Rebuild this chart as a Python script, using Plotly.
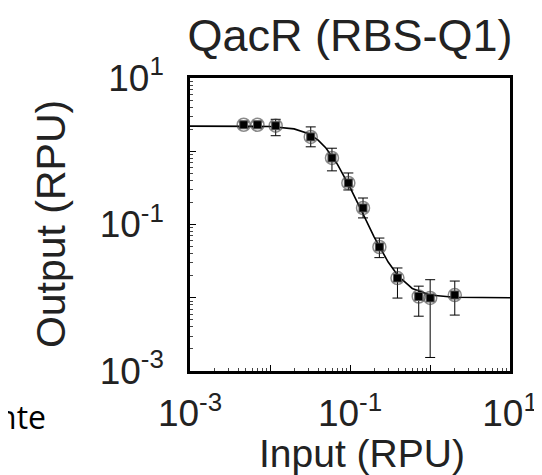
import plotly.graph_objects as go

# ---- data ----
input_rpu = [0.00469, 0.00697, 0.01178, 0.0323, 0.0595, 0.0953, 0.1455, 0.233, 0.392, 0.723, 1.005, 2.04]
output_rpu = [2.30, 2.30, 2.23, 1.57, 0.81, 0.369, 0.168, 0.0493, 0.0186, 0.0104, 0.00993, 0.0109]
err_plus = [0.2, 0.2, 0.5, 0.58, 0.29, 0.136, 0.062, 0.016, 0.0069, 0.004, 0.0077, 0.006]
err_minus = [0.2, 0.2, 0.6, 0.42, 0.27, 0.073, 0.045, 0.014, 0.0087, 0.0048, 0.0084, 0.0051]

fit_x = [0.001, 0.005, 0.01, 0.02, 0.03, 0.04, 0.05, 0.07, 0.1, 0.15, 0.2, 0.3, 0.4, 0.6, 1.0, 2.0, 10.0]
fit_y = [2.20, 2.20, 2.18, 2.02, 1.75, 1.42, 1.11, 0.657, 0.322, 0.13, 0.068, 0.0307, 0.0198, 0.0134, 0.0109, 0.01015, 0.0100]

x_tickvals = [1e-3, 1e-2, 1e-1, 1, 10]
x_ticktext = ["10<sup>-3</sup>", "", "10<sup>-1</sup>", "", "10<sup>1</sup>"]
y_tickvals = [1e-3, 1e-2, 1e-1, 1, 10]
y_ticktext = ["10<sup>-3</sup>", "", "10<sup>-1</sup>", "", "10<sup>1</sup>"]

title_text = "QacR (RBS-Q1)"
x_title = "Input (RPU)"
y_title = "Output (RPU)"
fragment_text = "nte"

FONT = "Liberation Sans, Arial, sans-serif"

minor_vals = [m * 10 ** e for e in range(-3, 1) for m in range(2, 10)]

fig = go.Figure()
fig.add_trace(go.Scatter(
    x=fit_x, y=fit_y, mode="lines",
    line=dict(color="black", width=1.6), showlegend=False, hoverinfo="skip"))
fig.add_trace(go.Scatter(
    x=input_rpu, y=output_rpu, mode="markers",
    marker=dict(symbol="square", size=8, color="black",
                line=dict(color="#555555", width=1)),
    error_y=dict(type="data", symmetric=False, array=err_plus, arrayminus=err_minus,
                 color="black", thickness=1, width=5),
    showlegend=False))
fig.add_trace(go.Scatter(
    x=input_rpu, y=output_rpu, mode="markers",
    marker=dict(symbol="circle-open", size=13, color="rgba(60,60,60,0.6)",
                line=dict(width=1.5)),
    showlegend=False, hoverinfo="skip"))

axis_common = dict(
    type="log", showgrid=False, zeroline=False,
    showline=True, mirror=True, linecolor="black", linewidth=2.5,
    ticks="inside", ticklen=6, tickwidth=1.2, tickcolor="black",
    tickfont=dict(family=FONT, size=37, color="#222222"),
    minor=dict(ticks="inside", ticklen=3, tickwidth=1, tickcolor="#444444",
               tickvals=minor_vals),
)

fig.update_layout(
    width=542, height=475,
    margin=dict(l=182, r=34, t=70, b=112),
    paper_bgcolor="white", plot_bgcolor="white",
    font=dict(family=FONT, color="#222222"),
    title=dict(text=title_text, x=0.5, xref="paper", y=1 - 27 / 475, yref="container",
               xanchor="center", yanchor="middle",
               font=dict(family=FONT, size=45, color="#222222")),
    xaxis=dict(axis_common, range=[-3, 1], tickvals=x_tickvals, ticktext=x_ticktext,
               ticklabelstandoff=8),
    yaxis=dict(axis_common, range=[-3, 1], tickvals=y_tickvals, ticktext=y_ticktext,
               ticklabelstandoff=16),
    annotations=[
        dict(text=y_title, xref="paper", yref="paper", x=(40 - 182) / 326, y=0.5,
             textangle=-90, showarrow=False, xanchor="center", yanchor="middle",
             font=dict(family=FONT, size=41, color="#222222")),
        dict(text=x_title, xref="paper", yref="paper", x=(357 - 182) / 326, y=(363 - 445) / 293,
             showarrow=False, xanchor="center", yanchor="middle",
             font=dict(family=FONT, size=39, color="#222222")),
        dict(text=fragment_text, xref="paper", yref="paper", x=(37 - 182) / 326, y=(363 - 408) / 293,
             showarrow=False, xanchor="right", yanchor="middle",
             font=dict(family="Open Sans, Lato, sans-serif", size=32, color="black")),
    ],
)

fig.write_html("out.html")
